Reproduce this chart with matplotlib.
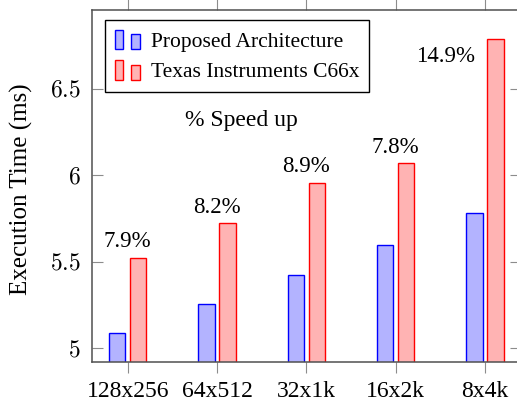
import matplotlib
matplotlib.use("Agg")
import matplotlib.pyplot as plt
import numpy as np
from matplotlib.legend_handler import HandlerBase
from matplotlib.patches import Rectangle

plt.rcParams["font.family"] = ["Liberation Serif", "DejaVu Serif"]
plt.rcParams["mathtext.fontset"] = "cm"

sizes = ["128x256", "64x512", "32x1k", "16x2k", "8x4k"]
proposed_ms = [5.088, 5.254, 5.421, 5.596, 5.783]
c66x_ms = [5.523, 5.722, 5.955, 6.070, 6.787]
speedup_labels = ["7.9%", "8.2%", "8.9%", "7.8%", "14.9%"]
y_ticks = [5, 5.5, 6, 6.5]

BLUE_FILL = "#b3b3ff"
RED_FILL = "#ffb3b3"
SPINE = "#505050"
TICK = "#8c8c8c"


class TwoBarHandler(HandlerBase):
    """pgfplots-style ybar legend image: two small bars side by side."""

    def create_artists(self, legend, orig_handle, xdescent, ydescent,
                       width, height, fontsize, trans):
        face = orig_handle.get_facecolor()
        edge = orig_handle.get_edgecolor()
        w = width * 0.34
        r1 = Rectangle((-xdescent, -ydescent), w, height,
                       facecolor=face, edgecolor=edge, lw=1.0, transform=trans)
        r2 = Rectangle((-xdescent + width * 0.64, -ydescent), w, height * 0.76,
                       facecolor=face, edgecolor=edge, lw=1.0, transform=trans)
        return [r1, r2]


fig = plt.figure(figsize=(5.17, 4.04), dpi=100)
ax = fig.add_axes([0.178, 0.104, 0.829, 0.871])

x = np.arange(len(sizes))
bar_w = 0.183
off = 0.118
b1 = ax.bar(x - off, proposed_ms, bar_w, color=BLUE_FILL, edgecolor="blue",
            linewidth=1.0, label="Proposed Architecture")
b2 = ax.bar(x + off, c66x_ms, bar_w, color=RED_FILL, edgecolor="red",
            linewidth=1.0, label="Texas Instruments C66x")

# speed-up labels above each group, the last one tucked beside its bar
for i, (val, txt) in enumerate(zip(c66x_ms, speedup_labels)):
    if i == len(sizes) - 1:
        ax.annotate(txt, (x[i] + off, val), xytext=(-15, -13),
                    textcoords="offset points", ha="right", va="center",
                    fontsize=16.5)
    else:
        ax.annotate(txt, (x[i], val), xytext=(0, 11.5),
                    textcoords="offset points", ha="center", va="center",
                    fontsize=16.5)

ax.text(1.27, 6.318, "% Speed up", ha="center", va="center", fontsize=17)

ax.set_xlim(-0.4, 4.4)
ax.set_ylim(4.921, 6.953)
ax.set_xticks(x)
ax.set_xticklabels(sizes, fontsize=17)
ax.set_yticks(y_ticks)
ax.set_yticklabels([f"${v:g}$" for v in y_ticks], fontsize=17)
ax.set_ylabel("Execution Time (ms)", fontsize=18)
ax.yaxis.set_label_coords(-0.138, 0.49)

ax.tick_params(axis="x", direction="out", top=True, bottom=True,
               length=8, width=0.8, color=TICK, pad=6)
ax.tick_params(axis="y", direction="in", left=True, right=True,
               length=8, width=0.8, color=TICK, pad=8)
for sp in ax.spines.values():
    sp.set_color(SPINE)
    sp.set_linewidth(1.1)

h1, h2 = b1.patches[0], b2.patches[0]
leg = ax.legend(handles=[h1, h2],
                labels=["Proposed Architecture", "Texas Instruments C66x"],
                handler_map={h1: TwoBarHandler(), h2: TwoBarHandler()},
                loc="upper left", bbox_to_anchor=(0.030, 0.972), borderaxespad=0,
                fontsize=15.5, fancybox=False, edgecolor="black", framealpha=1,
                handlelength=1.2, handleheight=1.0, handletextpad=0.5,
                borderpad=0.45, labelspacing=0.4)
leg.get_frame().set_linewidth(1.0)

fig.savefig("out.png", dpi=100)
